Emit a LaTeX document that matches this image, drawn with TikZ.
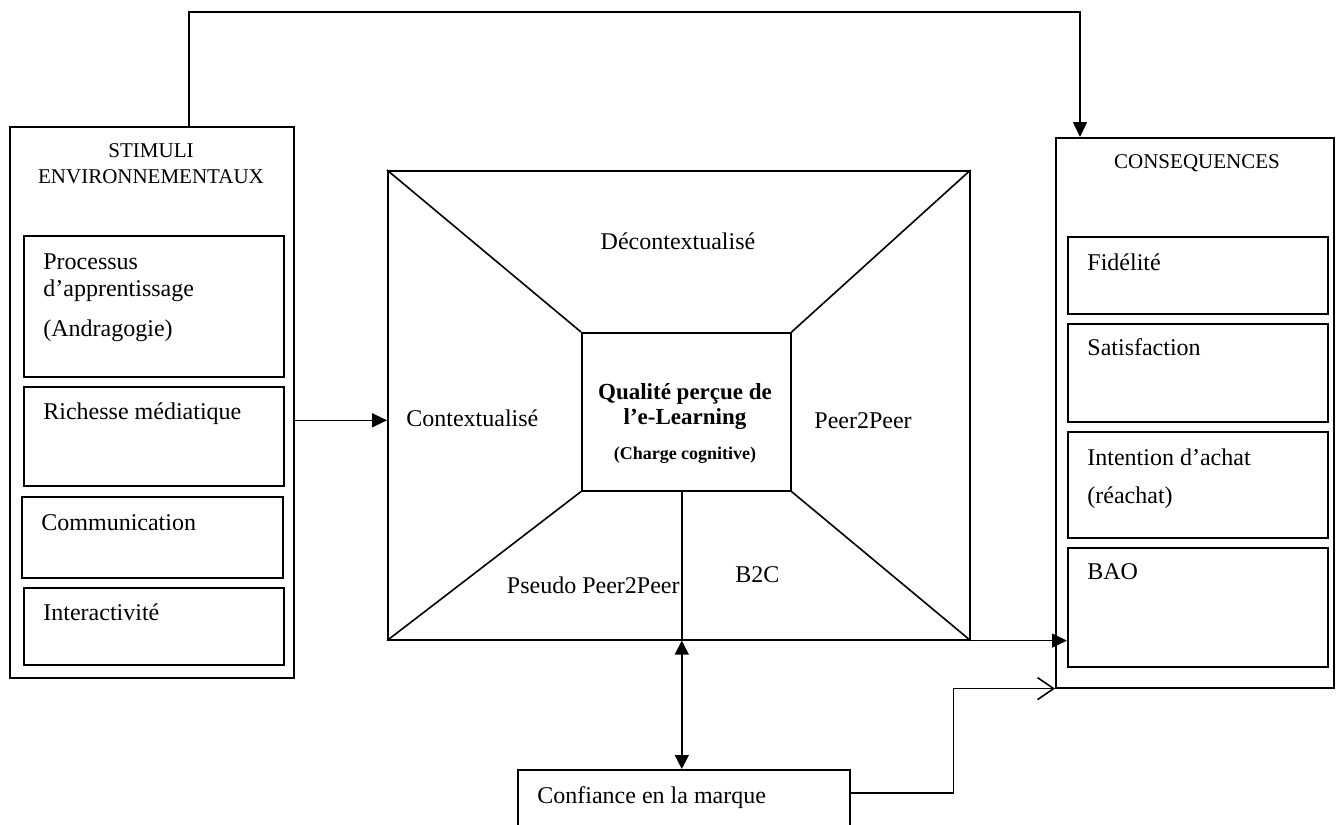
\documentclass[tikz,border=0pt]{standalone}
\usepackage{fontspec}
\setmainfont{Liberation Serif}
\usetikzlibrary{arrows.meta}

\tikzset{
  box/.style={draw, line width=0.8pt, inner sep=0pt, anchor=north west},
  lbl/.style={inner sep=0pt, align=left, font=\fontsize{12}{13.8}\selectfont},
  ttl/.style={inner sep=0pt, align=center, font=\fontsize{10.5}{13}\selectfont},
  arr/.style={line width=0.8pt, -{Triangle[length=7.5pt,width=7pt]}},
  dbl/.style={line width=0.8pt, {Triangle[length=7pt,width=7pt]}-{Triangle[length=7pt,width=7pt]}},
  opn/.style={line width=0.8pt, -{Straight Barb[length=8pt,width=11pt]}}
}

\begin{document}
\begin{tikzpicture}[x=0.5pt, y=-0.5pt]
\useasboundingbox (0,0) rectangle (1340,825);

% stimuli
\node[box, minimum width=142pt, minimum height=275.5pt] (stim) at (9,126) {};
\node[ttl, anchor=north] (stim-t) at (151,143) {STIMULI\\ENVIRONNEMENTAUX};
\node[box, minimum width=130pt, minimum height=70.5pt] (proc) at (23,235) {};
\node[box, minimum width=130pt, minimum height=49.5pt] (rich) at (23,386) {};
\node[box, minimum width=130.5pt, minimum height=40.5pt] (comm) at (21,496) {};
\node[box, minimum width=130pt, minimum height=38.5pt] (inter) at (23,587) {};
\node[lbl, anchor=north west] (proc-t) at (43,253) {Processus\\d’apprentissage\\[6pt](Andragogie)};
\node[lbl, anchor=base west] (rich-t) at (43,419) {Richesse médiatique};
\node[lbl, anchor=base west] (comm-t) at (41,530) {Communication};
\node[lbl, anchor=base west] (inter-t) at (43,620) {Interactivité};

% consequences
\node[box, minimum width=139pt, minimum height=275pt] (cons) at (1055,137) {};
\node[ttl, anchor=base] (cons-t) at (1197,168) {CONSEQUENCES};
\node[box, minimum width=130pt, minimum height=38.5pt] (fid) at (1067,236) {};
\node[box, minimum width=130pt, minimum height=49pt] (sat) at (1067,323) {};
\node[box, minimum width=130pt, minimum height=53pt] (int) at (1067,431) {};
\node[box, minimum width=130pt, minimum height=59.5pt] (bao) at (1067,547) {};
\node[lbl, anchor=base west] (fid-t) at (1087,270) {Fidélité};
\node[lbl, anchor=base west] (sat-t) at (1087,355) {Satisfaction};
\node[lbl, anchor=north west] (int-t) at (1087,448) {Intention d’achat\\[5.5pt](réachat)};
\node[lbl, anchor=base west] (bao-t) at (1087,579) {BAO};

% e-learning
\node[box, minimum width=291pt, minimum height=234.5pt] (big) at (387,170) {};
\node[box, minimum width=104.5pt, minimum height=79pt] (qual) at (581,332) {};
\foreach \c in {north west, north east, south west, south east}
  \draw[line width=0.8pt] (big.\c) -- (qual.\c);
\node[inner sep=0pt, align=center, font=\bfseries\fontsize{11.5}{12.5}\selectfont, anchor=north] (qual-t) at (685,383)
  {Qualité perçue de\\l’e-Learning\\[5pt]{\fontsize{9}{11}\selectfont (Charge cognitive)}};
\node[lbl, anchor=base] (decx) at (678,249) {Décontextualisé};
\node[lbl, anchor=base west] (ctx) at (406,426) {Contextualisé};
\node[lbl, anchor=base west] (p2p) at (814,428) {Peer2Peer};
\node[lbl, anchor=base east] (pp2p) at (680,593) {Pseudo Peer2Peer};
\node[lbl, anchor=base west] (b2c) at (735,582) {B2C};
\coordinate (split) at ([xshift=-2.25pt]qual.south);
\coordinate (splitend) at (split |- big.south);
\draw[line width=0.8pt] (split) -- (splitend);

% confiance
\node[box, minimum width=166pt, minimum height=40pt] (conf) at (517,769) {};
\node[lbl, anchor=base west] (conf-t) at (537,803) {Confiance en la marque};

% connectors
\draw[arr] ([xshift=18.5pt]stim.north) -- ++(0,-114) -| ([xshift=12.5pt]cons.north west);
\coordinate (stimout) at ([yshift=-9pt]stim.east);
\draw[arr] (stimout) -- (stimout -| big.west);
\draw[arr] (big.south east) -- (big.south east -| bao.west);
\draw[dbl] (splitend) -- (splitend |- conf.north);
\draw[opn] ([yshift=-12pt]conf.north east) -- ++(103,0) |- (cons.south west);
\end{tikzpicture}
\end{document}
